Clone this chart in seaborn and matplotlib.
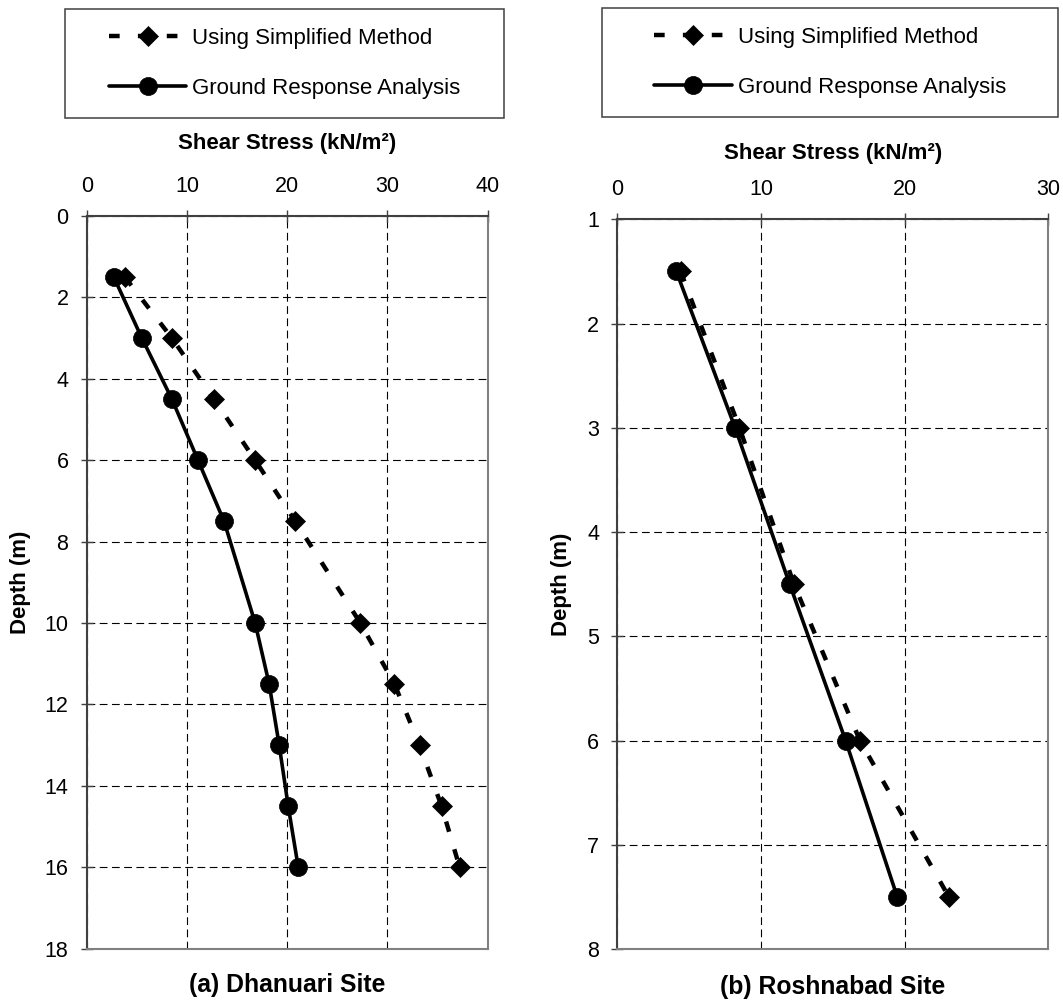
import pandas as pd
import seaborn as sns
import matplotlib.pyplot as plt
from matplotlib.patches import Rectangle

# (a) Dhanuari site
depth_a = [1.5, 3, 4.5, 6, 7.5, 10, 11.5, 13, 14.5, 16]
simplified_a = [3.8, 8.5, 12.7, 16.8, 20.8, 27.3, 30.7, 33.2, 35.4, 37.2]
ground_a = [2.7, 5.5, 8.5, 11.1, 13.7, 16.8, 18.2, 19.2, 20.1, 21.1]

# (b) Roshnabad site
depth_b = [1.5, 3, 4.5, 6, 7.5]
simplified_b = [4.4, 8.5, 12.3, 16.9, 23.1]
ground_b = [4.1, 8.2, 12.0, 15.9, 19.5]

series_labels = ['Using Simplified Method', 'Ground Response Analysis']

sns.set_style('white')
plt.rcParams['font.family'] = ['Liberation Sans', 'DejaVu Sans']
plt.rcParams['text.color'] = 'black'
plt.rcParams['axes.labelcolor'] = 'black'
plt.rcParams['xtick.color'] = 'black'
plt.rcParams['ytick.color'] = 'black'

DARK = '#404040'
LIGHT = '#808080'


def draw_panel(fig, ax, depth, simp, ground, xmax, ylim, yticks, title, title_y,
               xlabel_y, ylabel_x, legend_box):
    df_s = pd.DataFrame({'stress': simp, 'depth': depth})
    df_g = pd.DataFrame({'stress': ground, 'depth': depth})

    sns.lineplot(data=df_s, x='stress', y='depth', sort=False, ax=ax, color='black',
                 linestyle=(0, (2.4, 4.1)), linewidth=3.2, marker='D', markersize=10,
                 markeredgecolor='black', markeredgewidth=0.5, label=series_labels[0],
                 legend=False)
    sns.lineplot(data=df_g, x='stress', y='depth', sort=False, ax=ax, color='black',
                 linestyle='-', linewidth=2.6, marker='o', markersize=13,
                 markeredgecolor='black', markeredgewidth=0.5, label=series_labels[1],
                 legend=False)

    ax.set_xlim(0, xmax)
    ax.set_xticks(range(0, xmax + 1, 10))
    ax.set_ylim(ylim[1], ylim[0])
    ax.set_yticks(yticks)

    ax.xaxis.tick_top()
    ax.xaxis.set_label_position('top')
    ax.tick_params(axis='x', top=True, bottom=False, direction='inout', length=9,
                   width=1, color=DARK, labelsize=15.5, labelcolor='black', pad=9.5)
    ax.tick_params(axis='y', left=True, right=False, direction='inout', length=9,
                   width=1, color=DARK, labelsize=15.5, labelcolor='black', pad=8.7)

    ax.set_axisbelow(True)
    ax.grid(True, color='black', linestyle=(0, (7, 4)), linewidth=0.8)

    for side in ['left', 'top']:
        ax.spines[side].set_color(DARK)
        ax.spines[side].set_linewidth(1.5)
    for side in ['right', 'bottom']:
        ax.spines[side].set_color(LIGHT)
        ax.spines[side].set_linewidth(1.5)

    ax.set_xlabel('Shear Stress (kN/m²)', fontsize=16, fontweight='bold', color='black')
    ax.xaxis.set_label_coords(0.5, xlabel_y)
    ax.xaxis.label.set_va('center')
    ax.set_ylabel('Depth (m)', fontsize=16, fontweight='bold', color='black')
    ax.yaxis.set_label_coords(ylabel_x, 0.5)
    ax.yaxis.label.set_va('center')

    ax.text(0.5, title_y, title, transform=ax.transAxes, ha='center', va='center',
            fontsize=17.8, fontweight='bold', color='black')

    # legend inside a separate box above the plot
    x0, y0, w, h = legend_box
    fig.add_artist(Rectangle((x0, y0), w, h, transform=fig.transFigure, fill=False,
                             edgecolor=DARK, linewidth=1.1))
    handles, lbls = ax.get_legend_handles_labels()
    ax.legend(handles, lbls, loc='center', bbox_to_anchor=(x0 + w / 2, y0 + h / 2),
              bbox_transform=fig.transFigure, frameon=False, fontsize=16,
              labelcolor='black', numpoints=1, handlelength=3.5, handletextpad=0.25,
              labelspacing=1.3)


fig = plt.figure(figsize=(10.63, 10), dpi=100)
ax1 = fig.add_axes([0.0816, 0.0513, 0.3772, 0.7327])
ax2 = fig.add_axes([0.5809, 0.0507, 0.4050, 0.7300])

draw_panel(fig, ax1, depth_a, simplified_a, ground_a, 40, (0, 18), range(0, 19, 2),
           '(a) Dhanuari Site', -0.0495, 1.0983, -0.166,
           (0.0611, 0.882, 0.413, 0.109))
draw_panel(fig, ax2, depth_b, simplified_b, ground_b, 30, (1, 8), range(1, 9),
           '(b) Roshnabad Site', -0.0512, 1.0901, -0.129,
           (0.5663, 0.883, 0.429, 0.109))

fig.savefig('out.png', dpi=100)
